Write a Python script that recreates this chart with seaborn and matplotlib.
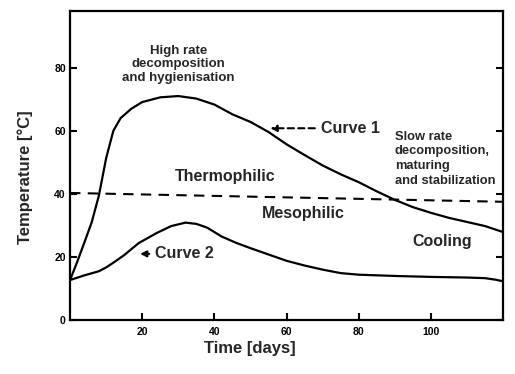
import pandas as pd
import matplotlib
matplotlib.use('Agg')
import matplotlib.pyplot as plt
import seaborn as sns

# values
curve1_days = [0, 2, 4, 6, 8, 10, 12, 14, 17, 20, 25, 30, 35, 40, 45, 50, 55,
               60, 65, 70, 75, 80, 85, 90, 95, 100, 105, 110, 115, 120]
curve1_temp = [12.7, 18.5, 24.7, 31.0, 39.5, 51.3, 60.0, 64.0, 67.0, 69.1, 70.6,
               71.0, 70.2, 68.3, 65.2, 62.8, 59.6, 55.7, 52.3, 49.0, 46.2, 43.7,
               40.8, 38.1, 35.8, 34.0, 32.4, 31.1, 29.8, 27.9]

curve2_days = [0, 4, 8, 10, 12, 15, 19, 24, 28, 32, 35, 38, 42, 46, 50, 55, 60,
               65, 70, 75, 80, 90, 100, 110, 115, 118, 120]
curve2_temp = [12.7, 14.2, 15.5, 16.7, 18.2, 20.6, 24.4, 27.6, 29.8, 30.9, 30.5,
               29.3, 26.5, 24.5, 22.8, 20.8, 18.8, 17.3, 16.0, 14.9, 14.4, 14.0,
               13.7, 13.5, 13.3, 12.8, 12.3]

# boundary between thermophilic and mesophilic phase
phase_days = [0, 120]
phase_temp = [40.3, 37.5]

x_ticks = [20, 40, 60, 80, 100]
y_ticks = [0, 20, 40, 60, 80]

df1 = pd.DataFrame({'day': curve1_days, 'temp': curve1_temp})
df2 = pd.DataFrame({'day': curve2_days, 'temp': curve2_temp})
df_phase = pd.DataFrame({'day': phase_days, 'temp': phase_temp})

sns.set_style("ticks")
plt.rcParams['font.family'] = ['Liberation Sans', 'DejaVu Sans']

fig = plt.figure(figsize=(5.15, 3.74), dpi=100)
ax = fig.add_axes([0.136, 0.144, 0.841, 0.827])

sns.lineplot(data=df1, x='day', y='temp', color='black', linewidth=1.6, ax=ax)
sns.lineplot(data=df2, x='day', y='temp', color='black', linewidth=1.6, ax=ax)
sns.lineplot(data=df_phase, x='day', y='temp', color='black', linewidth=1.5,
             linestyle=(0, (5, 3.5)), ax=ax)

ax.set_xlim(0, 120)
ax.set_ylim(0, 98)
ax.set_xticks(x_ticks)
ax.set_yticks(y_ticks)
ax.tick_params(direction='in', length=5, width=1.5, labelsize=7.5, colors='black')
ax.tick_params(axis='x', pad=5)
ax.tick_params(axis='y', pad=3, right=True)
for lbl in ax.get_xticklabels() + ax.get_yticklabels():
    lbl.set_fontweight('bold')
for sp in ax.spines.values():
    sp.set_visible(True)
    sp.set_linewidth(1.6)
    sp.set_color('black')

ax.set_xlabel('Time [days]', fontsize=12, fontweight='bold')
ax.set_ylabel('Temperature [°C]', fontsize=12, fontweight='bold')
ax.xaxis.set_label_coords(0.415, -0.068)
ax.yaxis.set_label_coords(-0.085, 0.463)

# text labels on the chart
ax.text(30, 81, 'High rate\ndecomposition\nand hygienisation', ha='center',
        va='center', fontsize=9.5, fontweight='bold', linespacing=1.15)
ax.text(90, 60, 'Slow rate\ndecomposition,\nmaturing\nand stabilization',
        ha='left', va='top', fontsize=9.3, fontweight='bold', linespacing=1.3)
ax.text(43, 45.5, 'Thermophilic', ha='center', va='center', fontsize=11.5,
        fontweight='semibold')
ax.text(64.5, 33.8, 'Mesophilic', ha='center', va='center', fontsize=11.5,
        fontweight='semibold')
ax.text(103, 25, 'Cooling', ha='center', va='center', fontsize=11.5,
        fontweight='semibold')

ax.annotate('Curve 1', xy=(55.5, 60.8), xytext=(69.5, 60.8), ha='left',
            va='center', fontsize=11.5, fontweight='semibold',
            arrowprops=dict(arrowstyle='-|>', color='black', lw=1.5,
                            linestyle=(0, (3, 2)), mutation_scale=9,
                            shrinkA=2, shrinkB=0))
ax.annotate('Curve 2', xy=(19.4, 21.0), xytext=(23.6, 21.0), ha='left',
            va='center', fontsize=11.5, fontweight='semibold',
            arrowprops=dict(arrowstyle='-|>', color='black', lw=1.5,
                            mutation_scale=9, shrinkA=2, shrinkB=0))

fig.savefig('out.png', dpi=100)
